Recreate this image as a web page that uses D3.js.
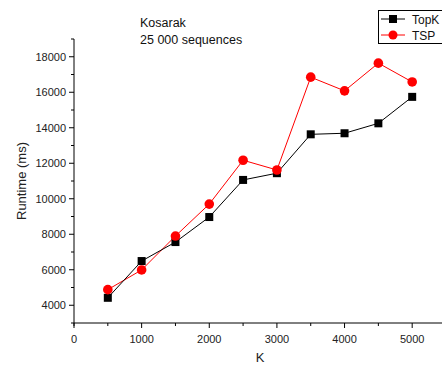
<!DOCTYPE html>
<html><head><meta charset="utf-8">
<script src="https://cdn.jsdelivr.net/npm/d3@7"></script>
<style>body{margin:0;background:#fff;overflow:hidden}svg{display:block;font-family:"Liberation Sans",Arial,sans-serif}</style>
</head><body><svg id="c" width="442" height="365"></svg>
<script>
const kValues = [500,1000,1500,2000,2500,3000,3500,4000,4500,5000];
const topkRuntime = [4420,6490,7560,8970,11060,11440,13630,13690,14250,15740];
const tspRuntime = [4880,5990,7900,9700,12170,11620,16850,16080,17640,16580];
const xTicks = [0,1000,2000,3000,4000,5000];
const yTicks = [4000,6000,8000,10000,12000,14000,16000,18000];
const seriesNames = ["TopK", "TSP"];

const svg = d3.select("#c");
const x = d3.scaleLinear().domain([0,5500]).range([74,446]);
const y = d3.scaleLinear().domain([3000,19000]).range([323,39]);

// x axis
const gx = svg.append("g").attr("transform","translate(0,323)");
gx.append("line").attr("x1",74).attr("x2",446).attr("stroke","#000").attr("stroke-width",1);
gx.selectAll(".maj").data(xTicks).join("line").attr("x1",d=>x(d)).attr("x2",d=>x(d)).attr("y1",0).attr("y2",5).attr("stroke","#000");
gx.selectAll(".min").data(d3.range(500,5500,1000)).join("line").attr("x1",d=>x(d)).attr("x2",d=>x(d)).attr("y1",0).attr("y2",3).attr("stroke","#000");
gx.selectAll("text").data(xTicks).join("text").attr("x",d=>x(d)).attr("y",20).attr("text-anchor","middle").attr("font-size",11).attr("fill","#222").text(d=>d);
svg.append("text").attr("x",260).attr("y",362).attr("text-anchor","middle").attr("font-size",13).attr("fill","#222").text("K");

// y axis
const gy = svg.append("g").attr("transform","translate(74,0)");
gy.append("line").attr("y1",39).attr("y2",326).attr("stroke","#000");
gy.selectAll(".maj").data(yTicks).join("line").attr("y1",d=>y(d)).attr("y2",d=>y(d)).attr("x1",0).attr("x2",-5).attr("stroke","#000");
gy.selectAll(".min").data(d3.range(3000,19001,2000)).join("line").attr("y1",d=>y(d)).attr("y2",d=>y(d)).attr("x1",0).attr("x2",-3).attr("stroke","#000");
gy.selectAll("text").data(yTicks).join("text").attr("x",-8).attr("y",d=>y(d)+4).attr("text-anchor","end").attr("font-size",11).attr("fill","#222").text(d=>d);
svg.append("text").attr("transform","translate(26,181) rotate(-90)").attr("text-anchor","middle").attr("font-size",13).attr("fill","#222").text("Runtime (ms)");

// annotation
svg.append("text").attr("x",140).attr("y",27).attr("font-size",12.5).attr("fill","#111").text("Kosarak");
svg.append("text").attr("x",140).attr("y",44).attr("font-size",12.5).attr("fill","#111").text("25 000 sequences");

const line = d3.line().x((d,i)=>x(kValues[i])).y(d=>y(d));
svg.append("path").attr("d",line(tspRuntime)).attr("fill","none").attr("stroke","#f00").attr("stroke-width",1);
svg.append("path").attr("d",line(topkRuntime)).attr("fill","none").attr("stroke","#000").attr("stroke-width",1);
svg.selectAll(".sq").data(topkRuntime).join("rect").attr("x",(d,i)=>x(kValues[i])-4).attr("y",d=>y(d)-4).attr("width",8).attr("height",8).attr("fill","#000");
svg.selectAll(".ci").data(tspRuntime).join("circle").attr("cx",(d,i)=>x(kValues[i])).attr("cy",d=>y(d)).attr("r",4.8).attr("fill","#f00");

// legend
const lg = svg.append("g");
lg.append("rect").attr("x",378.5).attr("y",10.5).attr("width",80).attr("height",33).attr("fill","#fff").attr("stroke","#000");
lg.append("line").attr("x1",381).attr("x2",405).attr("y1",19).attr("y2",19).attr("stroke","#000");
lg.append("rect").attr("x",389).attr("y",15).attr("width",8).attr("height",8).attr("fill","#000");
lg.append("text").attr("x",412).attr("y",23.5).attr("font-size",12).attr("fill","#111").text(seriesNames[0]);
lg.append("line").attr("x1",381).attr("x2",405).attr("y1",35).attr("y2",35).attr("stroke","#f00");
lg.append("circle").attr("cx",393).attr("cy",35).attr("r",4.5).attr("fill","#f00");
lg.append("text").attr("x",412).attr("y",39.5).attr("font-size",12).attr("fill","#111").text(seriesNames[1]);
</script></body></html>
